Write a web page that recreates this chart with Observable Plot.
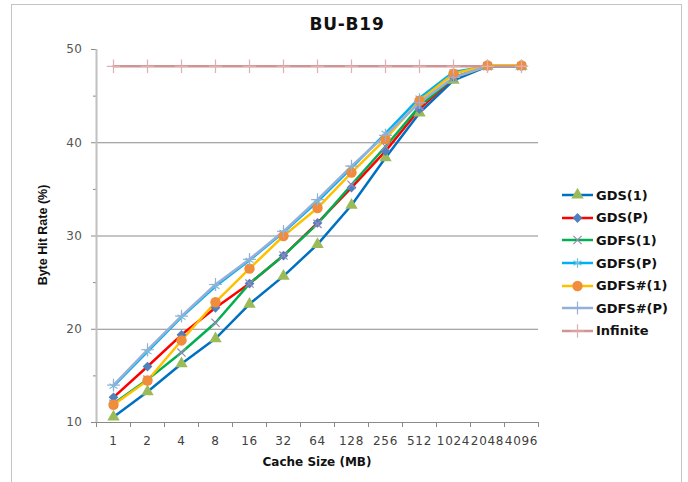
<!DOCTYPE html>
<html>
<head>
<meta charset="utf-8">
<script src="https://cdn.jsdelivr.net/npm/d3@7"></script>
<script src="https://cdn.jsdelivr.net/npm/@observablehq/plot@0.6"></script>
<style>
  body { margin: 0; background: #fff; }
  #wrap { position: relative; width: 688px; height: 482px; overflow: hidden; background: #fff; }
  #frame { position: absolute; left: 11px; top: 4px; width: 671px; height: 500px; border: 1.5px solid #c4c4c4; box-sizing: border-box; }
  #plot { position: absolute; left: 0; top: 0; }
  #plot g[aria-label="x-axis tick label"] text { letter-spacing: 0.7px; }
  #plot g[aria-label="y-axis tick label"] text { letter-spacing: 0.5px; }
  .title { position: absolute; left: 247px; width: 200px; top: 14px; text-align: center; font: bold 17px "DejaVu Sans", sans-serif; letter-spacing: 0.8px; color: #111; }
  .xtitle { position: absolute; left: 217px; width: 200px; top: 455px; text-align: center; font: bold 12px "DejaVu Sans", sans-serif; color: #111; }
  .ytitle { position: absolute; left: 43px; top: 235px; transform: translate(-50%, -50%) rotate(-90deg); white-space: nowrap; font: bold 12.5px "Liberation Sans", Arial, sans-serif; color: #111; }
  #legend { position: absolute; left: 561px; top: 184px; }
  .lrow { display: flex; align-items: center; height: 22.6px; }
  .lrow span { font: bold 13px "DejaVu Sans", sans-serif; color: #111; margin-left: 2px; }
</style>
</head>
<body>
<div id="wrap">
  <div id="frame"></div>
  <div id="plot"></div>
  <div class="title">BU-B19</div>
  <div class="ytitle">Byte Hit Rate (%)</div>
  <div class="xtitle">Cache Size (MB)</div>
  <div id="legend"></div>
</div>
<script>
// ---- data ----
const cacheSizes = ["1", "2", "4", "8", "16", "32", "64", "128", "256", "512", "1024", "2048", "4096"];
const seriesNames = ["GDS(1)", "GDS(P)", "GDFS(1)", "GDFS(P)", "GDFS#(1)", "GDFS#(P)", "Infinite"];
const gds1     = [10.6, 13.3, 16.3, 19.0, 22.7, 25.7, 29.1, 33.3, 38.4, 43.2, 46.7, 48.2, 48.2];
const gdsP     = [12.7, 16.0, 19.4, 22.3, 24.9, 27.9, 31.4, 35.2, 39.1, 43.6, 47.0, 48.2, 48.2];
const gdfs1    = [12.0, 14.6, 17.5, 20.7, 24.9, 27.9, 31.3, 35.5, 39.6, 43.9, 47.0, 48.2, 48.2];
const gdfsP    = [13.9, 17.6, 21.3, 24.6, 27.4, 30.4, 33.7, 37.3, 41.0, 44.8, 47.6, 48.2, 48.2];
const gdfsH1   = [11.9, 14.5, 18.8, 22.9, 26.5, 30.0, 33.0, 36.8, 40.4, 44.5, 47.4, 48.3, 48.3];
const gdfsHP   = [14.0, 17.8, 21.4, 24.8, 27.5, 30.5, 33.9, 37.5, 40.8, 44.3, 47.0, 48.2, 48.2];
const infinite = [48.2, 48.2, 48.2, 48.2, 48.2, 48.2, 48.2, 48.2, 48.2, 48.2, 48.2, 48.2, 48.2];
const yTicks = [10, 20, 30, 40, 50];
const yGrid = [20, 30, 40];
const yMinor = [15, 25, 35, 45];

// ---- styles ----
const seriesValues = [gds1, gdsP, gdfs1, gdfsP, gdfsH1, gdfsHP, infinite];
const lineColors   = ["#0070C0", "#FF0000", "#00B050", "#00B0F0", "#FFC000", "#95B0D8", "#D09494"];
const markerColors = ["#9BBB59", "#4F81BD", "#9A86B8", "#6EC0D8", "#F08C3C", "#95B0D8", "#E0B0B0"];
const symbols      = ["triangle", "diamond2", "times", "asterisk", "circle", "plus", "plus"];
const radii        = [4.6, 4.4, 3.8, 4.4, 5.2, 4.2, 4.4];
const filled       = [true, true, false, false, true, false, false];

const series = seriesNames.map((name, s) => ({
  name, s,
  rows: seriesValues[s].map((v, i) => ({ series: name, idx: i, size: cacheSizes[i], value: v }))
}));

const lineMarks = series.map(({ rows, s }) =>
  Plot.line(rows, { x: "idx", y: "value", stroke: lineColors[s], strokeWidth: s === 6 ? 2.6 : 2.5 }));
const dotMarks = series.map(({ rows, s }) =>
  filled[s]
    ? Plot.dot(rows, { x: "idx", y: "value", symbol: symbols[s], r: radii[s], fill: markerColors[s], stroke: "none" })
    : Plot.dot(rows, { x: "idx", y: "value", symbol: symbols[s], r: radii[s], fill: "none", stroke: markerColors[s], strokeWidth: 1.2 }));

const bounds = d3.range(cacheSizes.length + 1).map(i => i - 0.5);

const chart = Plot.plot({
  width: 688,
  height: 482,
  marginLeft: 96,
  marginRight: 150,
  marginTop: 49,
  marginBottom: 60,
  style: { background: "transparent", fontFamily: "DejaVu Sans, sans-serif", fontSize: "12px", color: "#505050", overflow: "visible" },
  x: { type: "linear", domain: [-0.5, cacheSizes.length - 0.5], axis: null },
  y: { type: "linear", domain: [10, 50], axis: null },
  marks: [
    Plot.ruleY(yGrid, { stroke: "#8a8a8a", strokeWidth: 1 }),
    Plot.axisY(yTicks, { tickSize: 5, tickPadding: 9, stroke: "#8a8a8a", fill: "#555", label: null, fontSize: 12 }),
    Plot.axisY(yMinor, { tickSize: 3, tickFormat: () => "", stroke: "#8a8a8a", label: null }),
    Plot.ruleX([-0.5], { stroke: "#c0c0c0", strokeWidth: 2 }),
    Plot.ruleY([10], { stroke: "#8a8a8a", strokeWidth: 1.2 }),
    Plot.axisX(bounds, { tickSize: 5, tickFormat: () => "", stroke: "#8a8a8a", label: null }),
    Plot.axisX(d3.range(cacheSizes.length), { tickSize: 0, tickPadding: 14, tickFormat: i => cacheSizes[i], fill: "#404040", label: null, fontSize: 12 }),
    ...lineMarks,
    ...dotMarks
  ]
});
document.getElementById("plot").appendChild(chart);

// ---- legend (right side) ----
const legend = d3.select("#legend");
const symbolMap = { triangle: d3.symbolTriangle, diamond2: d3.symbolDiamond2, times: d3.symbolTimes, asterisk: d3.symbolAsterisk, circle: d3.symbolCircle, plus: d3.symbolPlus };
seriesNames.forEach((name, s) => {
  const row = legend.append("div").attr("class", "lrow");
  const svg = row.append("svg").attr("width", 33).attr("height", 14);
  svg.append("line").attr("x1", 1).attr("x2", 32).attr("y1", 7).attr("y2", 7)
    .attr("stroke", lineColors[s]).attr("stroke-width", 2.5);
  svg.append("path")
    .attr("transform", "translate(16.5,7)")
    .attr("d", d3.symbol(symbolMap[symbols[s]], radii[s] * radii[s] * Math.PI)())
    .attr("fill", filled[s] ? markerColors[s] : "none")
    .attr("stroke", filled[s] ? "none" : markerColors[s])
    .attr("stroke-width", 1.2);
  row.append("span").text(name);
});
</script>
</body>
</html>
